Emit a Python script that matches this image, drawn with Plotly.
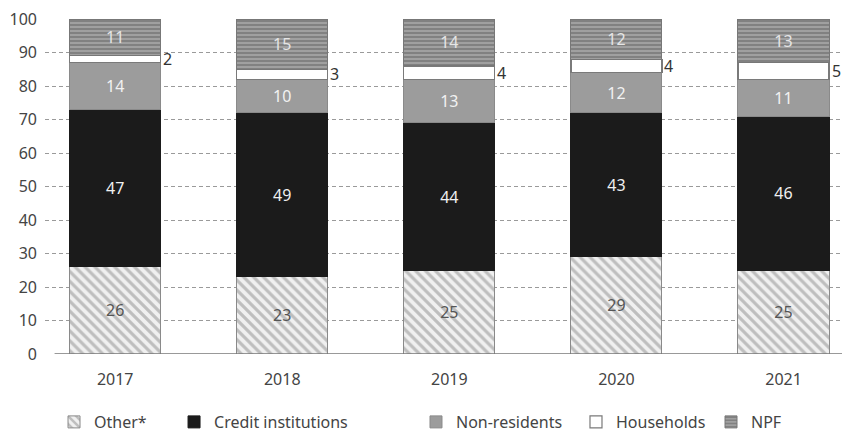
import plotly.graph_objects as go

years = ['2017', '2018', '2019', '2020', '2021']
other = [26, 23, 25, 29, 25]
credit = [47, 49, 44, 43, 46]
nonres = [14, 10, 13, 12, 11]
households = [2, 3, 4, 4, 5]
npf = [11, 15, 14, 12, 13]

FONT = 'Noto Sans'
GRID = '#9a9a9a'
FS = 16

fig = go.Figure()

# stacked series, bottom to top
fig.add_trace(go.Bar(
    x=years, y=other, name='Other*', legend='legend',
    marker=dict(color='#f2f2f2', line=dict(color='#8a8a8a', width=1),
                pattern=dict(shape='\\', fgcolor='#8c8c8c', bgcolor='#f0f0f0',
                             size=7, solidity=0.45)),
    text=other, textposition='inside', insidetextanchor='middle',
    textfont=dict(color='#555555', size=FS, family=FONT),
))
fig.add_trace(go.Bar(
    x=years, y=credit, name='Credit institutions', legend='legend2',
    marker=dict(color='#1b1b1b', line=dict(color='#1b1b1b', width=1)),
    text=credit, textposition='inside', insidetextanchor='middle',
    textfont=dict(color='#f0f0f0', size=FS, family=FONT),
))
fig.add_trace(go.Bar(
    x=years, y=nonres, name='Non-residents', legend='legend3',
    marker=dict(color='#9c9c9c', line=dict(color='#8a8a8a', width=1)),
    text=nonres, textposition='inside', insidetextanchor='middle',
    textfont=dict(color='#f2f2f2', size=FS, family=FONT),
))
fig.add_trace(go.Bar(
    x=years, y=households, name='Households', legend='legend4',
    marker=dict(color='#ffffff', line=dict(color='#7a7a7a', width=1.2)),
    hoverinfo='y',
))
fig.add_trace(go.Bar(
    x=years, y=npf, name='NPF', legend='legend5',
    marker=dict(color='#8e8e8e', line=dict(color='#777777', width=1),
                pattern=dict(shape='-', fgcolor='#5a5a5a', bgcolor='#a0a0a0',
                             size=4, solidity=0.45)),
    text=npf, textposition='inside', insidetextanchor='middle',
    textfont=dict(color='#e6e6e6', size=FS, family=FONT),
))

# households labels sit to the right of each bar
for i, (o, c, n, h) in enumerate(zip(other, credit, nonres, households)):
    fig.add_annotation(x=i, y=o + c + n + h / 2, text=str(h), showarrow=False,
                       xref='x', yref='y', xanchor='left', xshift=46,
                       font=dict(color='#333333', size=FS, family=FONT))

# zero baseline
fig.add_shape(type='line', xref='paper', yref='y', x0=0.012, x1=1, y0=0, y1=0,
              line=dict(color='#777777', width=1.5))

# page body has an 8px margin, so the figure is a bit smaller than the window
legend_x = [0.0113, 0.1617, 0.4649, 0.6654, 0.8346]
base_leg = dict(orientation='h', yanchor='middle', y=-0.203, xanchor='left',
                font=dict(size=FS, color='#444444', family=FONT),
                bgcolor='rgba(0,0,0,0)', itemwidth=30)

fig.update_layout(
    barmode='stack',
    bargap=0.455,
    width=842, height=426,
    margin=dict(l=37, r=7, t=11, b=80, autoexpand=False),
    paper_bgcolor='white', plot_bgcolor='white',
    font=dict(family=FONT, size=FS, color='#444444'),
    showlegend=True,
    legend=dict(base_leg, x=legend_x[0]),
    legend2=dict(base_leg, x=legend_x[1]),
    legend3=dict(base_leg, x=legend_x[2]),
    legend4=dict(base_leg, x=legend_x[3]),
    legend5=dict(base_leg, x=legend_x[4]),
    xaxis=dict(type='category', range=[-0.42, 4.356], showgrid=False,
               showline=False, ticks='', ticklabelstandoff=14, automargin=False,
               tickfont=dict(size=FS, color='#444444')),
    yaxis=dict(range=[0, 100], dtick=10, showgrid=True, gridcolor=GRID,
               griddash='4px,3px', gridwidth=1, zeroline=False, showline=False,
               ticks='', ticklabelstandoff=7, automargin=False,
               ticklabeloverflow='allow',
               tickfont=dict(size=FS, color='#444444')),
)

fig.write_html('out.html')
